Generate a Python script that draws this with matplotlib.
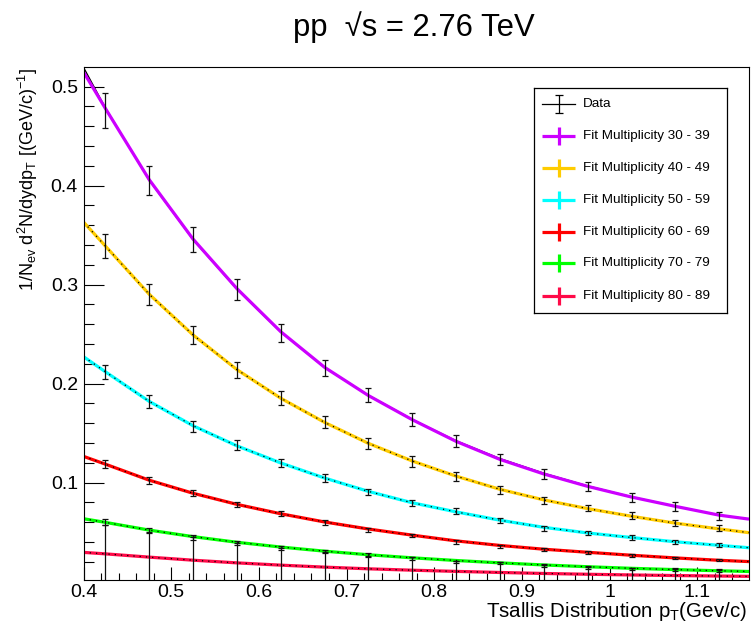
import matplotlib
matplotlib.use("Agg")
import matplotlib.pyplot as plt
from matplotlib.ticker import MultipleLocator

plt.rcParams['font.family'] = ['Liberation Sans', 'DejaVu Sans']
plt.rcParams['mathtext.default'] = 'regular'

# ---- data ----
pt = [0.425, 0.475, 0.525, 0.575, 0.625, 0.675, 0.725, 0.775,
      0.825, 0.875, 0.925, 0.975, 1.025, 1.075, 1.125]

mult_30_39 = [0.476, 0.4055, 0.3455, 0.2955, 0.2512, 0.2158, 0.1886, 0.1636,
              0.1417, 0.1232, 0.1088, 0.0963, 0.0852, 0.0761, 0.0667]
mult_40_49 = [0.3394, 0.2904, 0.2494, 0.2139, 0.1855, 0.1613, 0.1394, 0.1215,
              0.1064, 0.0929, 0.0822, 0.0744, 0.0667, 0.0593, 0.0539]
mult_50_59 = [0.2118, 0.1821, 0.157, 0.1377, 0.1199, 0.1047, 0.0906, 0.0795,
              0.071, 0.0616, 0.0542, 0.0492, 0.0448, 0.0401, 0.0367]
mult_60_69 = [0.1189, 0.102, 0.0896, 0.0778, 0.0684, 0.0599, 0.0525, 0.0468,
              0.0401, 0.0357, 0.0323, 0.0296, 0.0266, 0.0239, 0.0215]
mult_70_79 = [0.0599, 0.0515, 0.0448, 0.0391, 0.034, 0.0306, 0.0273, 0.0239,
              0.0199, 0.0189, 0.0162, 0.0144, 0.0131, 0.0121, 0.0111]
mult_80_89 = [0.028, 0.0246, 0.0212, 0.0189, 0.0165, 0.0144, 0.0128, 0.0111,
              0.0104, 0.0094, 0.0083, 0.0077, 0.0067, 0.006, 0.0057]

err_30_39 = [0.0175, 0.0145, 0.0124, 0.0105, 0.0095, 0.0085, 0.0075, 0.0068,
             0.006, 0.0055, 0.005, 0.0048, 0.0045, 0.0043, 0.004]
err_40_49 = [0.012, 0.0105, 0.009, 0.008, 0.0073, 0.0065, 0.0058, 0.0052,
             0.0047, 0.0042, 0.0038, 0.0035, 0.0033, 0.003, 0.003]
err_50_59 = [0.0075, 0.0065, 0.0058, 0.005, 0.0045, 0.004, 0.0035, 0.0032,
             0.003, 0.0027, 0.0025, 0.0023, 0.0022, 0.002, 0.002]
err_60_69 = [0.0042, 0.0037, 0.0032, 0.0028, 0.0025, 0.0022, 0.002, 0.0018,
             0.0016, 0.0015, 0.0014, 0.0013, 0.0012, 0.0011, 0.001]
err_70_79 = [0.003, 0.0028, 0.0025, 0.0022, 0.002, 0.0018, 0.0016, 0.0015,
             0.0014, 0.0013, 0.0012, 0.0011, 0.001, 0.001, 0.001]
err_80_89 = [0.0296, 0.026, 0.0243, 0.0205, 0.0178, 0.0159, 0.0125, 0.0142,
             0.0108, 0.0101, 0.0089, 0.0075, 0.0074, 0.008, 0.0073]

# fit curves, read at these pT values
fit_pt = [0.4, 0.425, 0.475, 0.525, 0.575, 0.625, 0.675, 0.725, 0.775,
          0.825, 0.875, 0.925, 0.975, 1.025, 1.075, 1.125, 1.159]
fit_30_39 = [0.515, 0.478, 0.406, 0.346, 0.296, 0.2525, 0.2165, 0.188, 0.1636,
             0.1417, 0.1235, 0.1088, 0.0963, 0.0855, 0.0761, 0.0672, 0.0632]
fit_30_39_black = [0.5195, 0.4785, 0.4055, 0.3455, 0.2955, 0.2522, 0.2163, 0.1882, 0.1639,
                   0.1423, 0.1243, 0.1095, 0.0967, 0.0857, 0.0762, 0.0673, 0.0633]
fit_40_49 = [0.3633, 0.339, 0.2903, 0.2492, 0.2142, 0.1853, 0.1609, 0.1397, 0.1219,
             0.1066, 0.0933, 0.0826, 0.0738, 0.0661, 0.0591, 0.0533, 0.0495]
fit_50_59 = [0.2273, 0.212, 0.1821, 0.1575, 0.1372, 0.1199, 0.1047, 0.0912, 0.0797,
             0.0705, 0.0621, 0.0549, 0.0492, 0.0446, 0.0403, 0.0367, 0.0343]
fit_60_69 = [0.1266, 0.1187, 0.1025, 0.0893, 0.0781, 0.0686, 0.0603, 0.0532, 0.047,
             0.0412, 0.0366, 0.0328, 0.0297, 0.0267, 0.024, 0.0216, 0.0203]
fit_70_79 = [0.0636, 0.0599, 0.0521, 0.0455, 0.0398, 0.035, 0.0308, 0.0272, 0.0241,
             0.0214, 0.019, 0.0169, 0.0151, 0.0135, 0.0122, 0.011, 0.0103]
fit_80_89 = [0.0296, 0.0281, 0.0248, 0.0217, 0.019, 0.0167, 0.0147, 0.013, 0.0116,
             0.0104, 0.0093, 0.0083, 0.0075, 0.0068, 0.0062, 0.0057, 0.0054]

labels = ["Fit Multiplicity 30 - 39", "Fit Multiplicity 40 - 49",
          "Fit Multiplicity 50 - 59", "Fit Multiplicity 60 - 69",
          "Fit Multiplicity 70 - 79", "Fit Multiplicity 80 - 89"]
colors = ['#cc00ff', '#ffcc00', '#00ffff', '#ff0000', '#00ff00', '#ff0a48']

data_series = [mult_30_39, mult_40_49, mult_50_59, mult_60_69, mult_70_79, mult_80_89]
err_series = [err_30_39, err_40_49, err_50_59, err_60_69, err_70_79, err_80_89]
fit_series = [fit_30_39, fit_40_49, fit_50_59, fit_60_69, fit_70_79, fit_80_89]

W, H = 751, 629
fig = plt.figure(figsize=(W / 100, H / 100), dpi=100)
L, R, T, B = 83.5, 749, 67, 580
ax = fig.add_axes([L / W, 1 - B / H, (R - L) / W, (B - T) / H])

# black reference curve under the violet fit
ax.plot(fit_pt, fit_30_39_black, color='black', lw=1.0, zorder=1.5)
for fy, c in zip(fit_series, colors):
    ax.plot(fit_pt, fy, color=c, lw=2.3, solid_capstyle='butt', zorder=2)
for fy in fit_series[1:]:
    ax.plot(fit_pt, fy, color='black', lw=0.9, ls=(0, (1.0, 4.0)), zorder=3)

for dy, de in zip(data_series, err_series):
    ax.errorbar(pt, dy, yerr=de, fmt='none', ecolor='#111111', elinewidth=0.9,
                capsize=2.3, capthick=0.9, zorder=4)

ax.set_xlim(0.4, 1.159)
ax.set_ylim(0.0017, 0.5199)
ax.xaxis.set_major_locator(MultipleLocator(0.1))
ax.xaxis.set_minor_locator(MultipleLocator(0.02))
ax.yaxis.set_major_locator(MultipleLocator(0.1))
ax.yaxis.set_minor_locator(MultipleLocator(0.02))
ax.xaxis.set_major_formatter(plt.FuncFormatter(lambda v, p: ('%g' % round(v, 2))))
ax.yaxis.set_major_formatter(plt.FuncFormatter(lambda v, p: ('%g' % round(v, 2))))
ax.tick_params(axis='x', which='major', direction='in', length=9.5, width=0.8,
               labelsize=14, pad=3, top=False)
ax.tick_params(axis='x', which='minor', direction='in', length=5, width=0.8, top=False)
ax.tick_params(axis='y', which='major', direction='in', length=14.5, width=0.8,
               labelsize=14, pad=4, right=False)
ax.tick_params(axis='y', which='minor', direction='in', length=7.2, width=0.8, right=False)
for s in ax.spines.values():
    s.set_linewidth(0.8)

fig.text(414 / W, 1 - 36 / H, "pp  \u221as = 2.76 TeV", ha='center', va='baseline',
         fontsize=22.3)
fig.text(747 / W, 1 - 617 / H, r"Tsallis Distribution p$_{T}$(Gev/c)", ha='right',
         va='baseline', fontsize=14.8)
fig.text(28 / W, 1 - 68 / H, r"1/N$_{ev}$ d$^{2}$N/dydp$_{T}$ [(GeV/c)$^{-1}$]",
         rotation=90, ha='center', va='top', fontsize=13)

# legend box
lx0, ly0, lx1, ly1 = 534, 88, 727, 313
lax = fig.add_axes([lx0 / W, 1 - ly1 / H, (lx1 - lx0) / W, (ly1 - ly0) / H])
lax.set_xlim(0, lx1 - lx0)
lax.set_ylim(ly1 - ly0, 0)
lax.set_xticks([])
lax.set_yticks([])
for s in lax.spines.values():
    s.set_linewidth(0.9)
ys = [16.3, 48, 80.3, 112, 143.7, 175.3, 208]
lax.plot([8, 41], [ys[0], ys[0]], color='black', lw=0.9)
lax.errorbar([24.5], [ys[0]], yerr=[9], fmt='none', ecolor='black', elinewidth=0.9,
             capsize=3, capthick=0.9)
lax.text(49, ys[0], "Data", va='center', ha='left', fontsize=9.7)
for yy, c, lab in zip(ys[1:], colors, labels):
    lax.plot([8, 41], [yy, yy], color=c, lw=2.3, solid_capstyle='butt')
    lax.plot([24.5, 24.5], [yy - 9, yy + 9], color=c, lw=2.3, solid_capstyle='butt')
    lax.text(49, yy, lab, va='center', ha='left', fontsize=9.7)

fig.savefig("out.png", dpi=100)
